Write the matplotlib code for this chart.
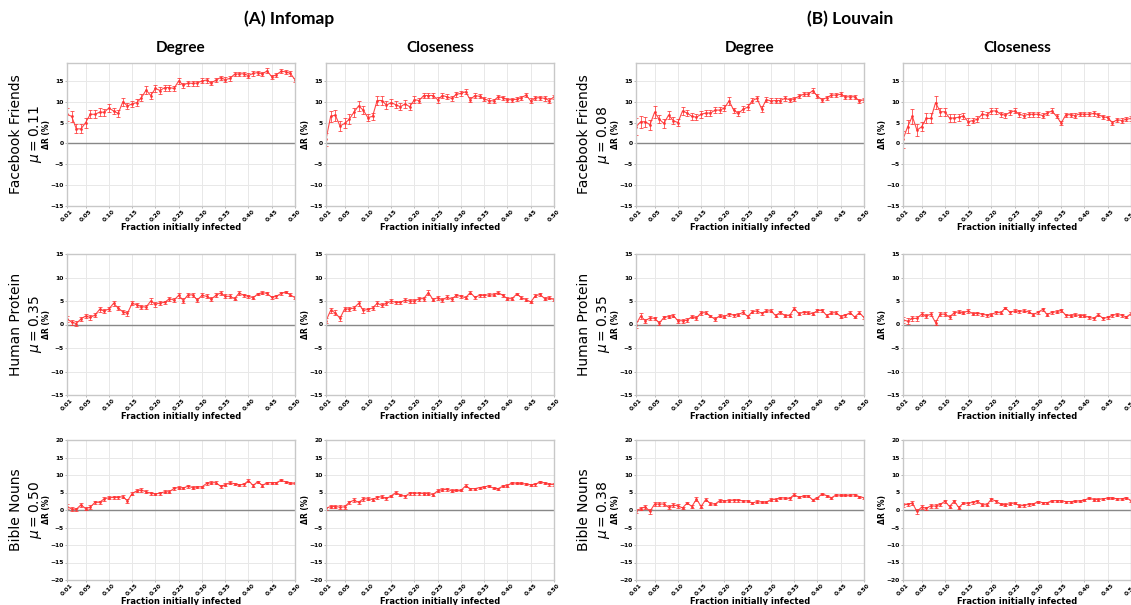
import matplotlib
matplotlib.use('Agg')
import matplotlib.pyplot as plt
import numpy as np

# fraction initially infected: 0.01 ... 0.50
fraction = [round(0.01 * i, 2) for i in range(1, 51)]
xtick_vals = [0.01, 0.05, 0.10, 0.15, 0.20, 0.25, 0.30, 0.35, 0.40, 0.45, 0.50]
xtick_labels = ['0.01', '0.05', '0.10', '0.15', '0.20', '0.25', '0.30', '0.35', '0.40', '0.45', '0.50']

methods = ['(A) Infomap', '(B) Louvain']
measures = ['Degree', 'Closeness']
networks = ['Facebook Friends', 'Human Protein', 'Bible Nouns']
mu_infomap = ['0.11', '0.35', '0.50']
mu_louvain = ['0.08', '0.35', '0.38']

# ---- Facebook Friends ----
fb_inf_deg = [7, 6.5, 3.5, 3.5, 5, 7, 7, 7.5, 7.5, 8.5, 7.8, 7.2, 10, 9, 9.5, 9.8, 11, 12.8, 11.5, 13.2,
              12.7, 13.4, 13.4, 13.2, 15, 14, 14.5, 14.4, 14.5, 15, 15.2, 14.5, 15.2, 15.8, 15.3, 15.6, 16.6, 16.7, 16.7, 16.3,
              16.8, 17, 16.7, 17.4, 16, 16.5, 17.3, 17.2, 16.8, 15.3]
fb_inf_deg_err = [1.5, 1.3, 1.1, 1.1, 1.2, 1.0, 1.0, 0.9, 0.8, 0.9, 0.8, 0.8, 0.9, 0.8, 0.8, 0.8, 0.8, 0.9, 0.9, 0.8,
                  0.8, 0.7, 0.7, 0.7, 0.8, 0.6, 0.6, 0.6, 0.6, 0.6, 0.6, 0.5, 0.5, 0.5, 0.6, 0.5, 0.5, 0.5, 0.5, 0.5,
                  0.5, 0.5, 0.5, 0.6, 0.5, 0.5, 0.5, 0.5, 0.5, 0.5]
fb_inf_clo = [1.0, 6.5, 6.8, 4.2, 4.8, 5.8, 7.5, 9, 8, 6.2, 6.5, 10.3, 10.3, 9.2, 9.8, 9.3, 8.8, 9.5, 8.8, 10.5,
              10.3, 11.5, 11.5, 11.5, 10.5, 11.5, 11.2, 10.8, 11.8, 12, 12.4, 10.5, 11.5, 11.3, 10.7, 10.3, 10.2, 11.2, 11, 10.5,
              10.5, 10.6, 11, 11.6, 10.2, 10.9, 11, 10.8, 10.3, 11.2]
fb_inf_clo_err = [1.5, 1.4, 1.3, 1.3, 1.2, 1.2, 1.1, 1.1, 1.0, 0.9, 0.9, 1.0, 1.0, 0.9, 0.9, 0.8, 0.8, 0.9, 0.8, 0.8,
                  0.7, 0.7, 0.7, 0.7, 0.7, 0.6, 0.6, 0.6, 0.6, 0.6, 0.6, 0.6, 0.6, 0.5, 0.5, 0.5, 0.5, 0.5, 0.5, 0.5,
                  0.5, 0.5, 0.5, 0.5, 0.6, 0.5, 0.5, 0.5, 0.5, 0.5]
fb_lou_deg = [4, 5.2, 5.2, 4.5, 7.5, 5.8, 4.8, 6.8, 5.5, 5, 7.8, 7.3, 6.5, 6.3, 7, 7.3, 7.3, 8, 8, 8.5,
              10.2, 8, 7.2, 8.2, 8.7, 10.3, 10.8, 8.3, 10.5, 10.2, 10.3, 10.3, 10.8, 10.5, 10.7, 11.3, 11.8, 11.8, 12.7, 11.3,
              10.5, 11, 11.6, 11.6, 11.8, 11.2, 11.2, 11.2, 10.2, 10.5]
fb_lou_deg_err = [2.0, 1.4, 1.2, 1.2, 1.4, 1.0, 1.0, 1.0, 0.9, 0.9, 0.9, 0.8, 0.8, 0.7, 0.8, 0.7, 0.7, 0.8, 0.7, 0.7,
                  0.9, 0.6, 0.6, 0.7, 0.7, 0.7, 0.7, 0.8, 0.6, 0.6, 0.6, 0.5, 0.5, 0.5, 0.5, 0.5, 0.5, 0.5, 0.6, 0.5,
                  0.5, 0.5, 0.5, 0.5, 0.5, 0.5, 0.5, 0.5, 0.5, 0.5]
fb_lou_clo = [1, 4, 6.5, 3.2, 4, 6, 6, 9.8, 7.6, 7.6, 6.1, 6.1, 6.3, 6.6, 5.2, 5.5, 5.8, 7, 6.8, 7.8,
              7.8, 7, 6.8, 7.5, 7.8, 7, 6.7, 7, 7, 7, 6.7, 7.3, 7.8, 6.5, 4.9, 6.9, 6.9, 6.7, 7.1, 7,
              7, 7.2, 6.9, 6.4, 6.2, 5, 5.7, 5.5, 5.8, 6]
fb_lou_clo_err = [2.0, 1.6, 1.8, 1.5, 1.1, 1.2, 1.2, 1.5, 1.0, 0.9, 1.0, 0.9, 0.8, 0.8, 0.8, 0.7, 0.7, 0.8, 0.7, 0.7,
                  0.7, 0.6, 0.6, 0.6, 0.6, 0.6, 0.6, 0.6, 0.6, 0.6, 0.5, 0.5, 0.6, 0.5, 0.5, 0.5, 0.5, 0.5, 0.5, 0.5,
                  0.5, 0.5, 0.5, 0.5, 0.5, 0.5, 0.5, 0.5, 0.5, 0.5]

# ---- Human Protein ----
hp_inf_deg = [1.2, 0.5, 0.2, 1.2, 1.8, 1.5, 2, 3.2, 2.9, 3.3, 4.5, 3.5, 2.7, 2.4, 4.5, 4.2, 3.8, 3.7, 5, 4.3,
              4.6, 4.7, 5.5, 5.2, 6.2, 5.1, 6.3, 6.3, 5.2, 6.2, 6, 5.4, 6.2, 6.7, 6, 6, 5.5, 6.7, 6.2, 6,
              5.7, 6.5, 6.8, 6.6, 5.8, 6, 6.6, 6.9, 6.3, 5.7]
hp_inf_deg_err = [0.6, 0.5, 0.5, 0.5, 0.5, 0.5, 0.5, 0.5, 0.5, 0.5, 0.6, 0.4, 0.4, 0.5, 0.4, 0.4, 0.4, 0.4, 0.6, 0.5,
                  0.4, 0.4, 0.4, 0.4, 0.5, 0.5, 0.4, 0.4, 0.4, 0.4, 0.4, 0.4, 0.4, 0.4, 0.4, 0.4, 0.3, 0.4, 0.3, 0.3,
                  0.3, 0.3, 0.3, 0.3, 0.3, 0.3, 0.3, 0.3, 0.3, 0.3]
hp_inf_clo = [0.8, 3, 2.5, 1.3, 3.3, 3.3, 3.5, 4.5, 3, 3.2, 3.5, 4.5, 4.1, 4.5, 5, 4.7, 4.7, 5.2, 5, 5,
              5.5, 5.5, 6.8, 5.3, 5.7, 5.2, 5.8, 5.4, 6.2, 6, 5.7, 6.8, 5.8, 6.2, 6.2, 6.3, 6.3, 6.8, 6.2, 5.5,
              5.5, 6.5, 5.7, 5.3, 4.8, 6.1, 6.4, 5.5, 5.7, 5.3]
hp_inf_clo_err = [0.5, 0.5, 0.5, 0.5, 0.5, 0.5, 0.5, 0.5, 0.5, 0.4, 0.4, 0.5, 0.4, 0.4, 0.4, 0.4, 0.4, 0.4, 0.4, 0.4,
                  0.4, 0.4, 0.5, 0.4, 0.4, 0.4, 0.4, 0.4, 0.3, 0.3, 0.3, 0.4, 0.3, 0.3, 0.3, 0.3, 0.3, 0.3, 0.3, 0.3,
                  0.3, 0.3, 0.3, 0.3, 0.3, 0.3, 0.3, 0.3, 0.3, 0.3]
hp_lou_deg = [0, 1.8, 0.8, 1.4, 1.3, 0.3, 1.5, 1.7, 1.9, 0.8, 0.8, 0.9, 1.7, 1.4, 2.5, 2.5, 1.8, 1.1, 1.9, 1.7,
              2.2, 2, 2.1, 2.6, 1.7, 2.7, 2.9, 2.4, 2.9, 2.9, 1.9, 2.6, 1.9, 1.9, 3.4, 2.3, 2.6, 2.5, 2.3, 3,
              3, 1.9, 2.5, 2.5, 1.7, 2, 2.5, 1.6, 2.5, 1.5]
hp_lou_deg_err = [0.8, 0.6, 0.4, 0.4, 0.4, 0.4, 0.4, 0.4, 0.4, 0.4, 0.4, 0.4, 0.4, 0.4, 0.4, 0.3, 0.3, 0.4, 0.3, 0.3,
                  0.3, 0.3, 0.3, 0.4, 0.3, 0.3, 0.4, 0.3, 0.3, 0.3, 0.3, 0.3, 0.3, 0.3, 0.4, 0.3, 0.3, 0.3, 0.3, 0.3,
                  0.3, 0.3, 0.3, 0.3, 0.3, 0.3, 0.3, 0.3, 0.3, 0.3]
hp_lou_clo = [1, 0.7, 1.3, 1.3, 2.2, 1.8, 2.2, 0.4, 2.2, 2.2, 1.6, 2.5, 2.7, 2.5, 2.9, 2.3, 2.4, 2.2, 2, 2.1,
              2.6, 2.5, 3.5, 2.6, 2.9, 2.8, 2.9, 2.7, 2.1, 2.6, 3.2, 2.1, 2.6, 2.7, 3, 2, 1.9, 2.1, 1.9, 1.9,
              1.5, 1.3, 2.1, 1.3, 1.5, 2, 2.1, 2, 1.6, 2.3]
hp_lou_clo_err = [0.6, 0.6, 0.5, 0.5, 0.4, 0.4, 0.4, 0.5, 0.4, 0.4, 0.4, 0.4, 0.3, 0.3, 0.4, 0.3, 0.3, 0.3, 0.3, 0.3,
                  0.3, 0.3, 0.3, 0.3, 0.3, 0.3, 0.3, 0.3, 0.3, 0.3, 0.3, 0.3, 0.3, 0.3, 0.3, 0.3, 0.3, 0.3, 0.3, 0.3,
                  0.3, 0.3, 0.3, 0.3, 0.3, 0.3, 0.3, 0.3, 0.3, 0.3]

# ---- Bible Nouns ----
bn_inf_deg = [1, 0.3, 0.2, 1.5, 0.4, 0.8, 2.2, 2.2, 3.2, 3.5, 3.6, 3.6, 3.8, 2.6, 4.7, 5.5, 5.7, 5.2, 4.8, 4.6,
              4.8, 5.2, 5.2, 6.2, 6.4, 6.3, 6.8, 6.4, 6.6, 6.6, 7.6, 7.8, 7.8, 6.8, 7.2, 7.8, 7.5, 7.2, 7.3, 8.4,
              7, 8.1, 7, 7.8, 7.8, 7.8, 8.5, 8, 7.7, 7.6]
bn_inf_deg_err = [0.6, 0.5, 0.5, 0.6, 0.5, 0.5, 0.5, 0.5, 0.5, 0.4, 0.4, 0.4, 0.4, 0.5, 0.4, 0.4, 0.5, 0.4, 0.4, 0.4,
                  0.4, 0.4, 0.4, 0.4, 0.4, 0.4, 0.4, 0.4, 0.4, 0.4, 0.4, 0.4, 0.4, 0.4, 0.4, 0.4, 0.3, 0.3, 0.3, 0.4,
                  0.4, 0.3, 0.3, 0.3, 0.3, 0.3, 0.3, 0.3, 0.3, 0.3]
bn_inf_clo = [0.5, 1, 1, 0.8, 0.9, 2.2, 2.8, 2.2, 3.2, 3.2, 3, 3.6, 3.8, 3.3, 4, 5, 4.3, 3.9, 4.8, 4.8,
              4.8, 4.7, 4.7, 4.4, 5.5, 5.8, 5.9, 5.5, 5.6, 5.6, 6.9, 6.1, 6.1, 6.4, 6.6, 6.9, 6.2, 6.1, 6.8, 7,
              7.8, 7.6, 7.6, 7.4, 7.2, 7.3, 8.1, 7.7, 7.3, 7.3]
bn_inf_clo_err = [0.5, 0.5, 0.5, 0.5, 0.5, 0.5, 0.6, 0.5, 0.5, 0.4, 0.4, 0.4, 0.4, 0.4, 0.4, 0.4, 0.4, 0.4, 0.4, 0.4,
                  0.4, 0.4, 0.4, 0.4, 0.4, 0.4, 0.4, 0.4, 0.3, 0.3, 0.4, 0.3, 0.3, 0.3, 0.3, 0.3, 0.3, 0.3, 0.3, 0.3,
                  0.3, 0.3, 0.3, 0.3, 0.3, 0.3, 0.3, 0.3, 0.3, 0.3]
bn_lou_deg = [-0.3, 0.4, 0.9, -0.4, 1.7, 1.7, 1.7, 0.8, 1.4, 1.2, 0.6, 2, 1, 3.1, 1, 3, 1.8, 1.7, 2.7, 2.6,
              2.7, 2.8, 2.8, 2.6, 2.6, 2, 2.4, 2.3, 2.2, 3, 3, 3.5, 3.4, 3.3, 4.4, 3.6, 4, 4, 2.9, 3.5,
              4.6, 4.1, 3.5, 4.3, 4.2, 4.2, 4.2, 4.4, 3.8, 3.5]
bn_lou_deg_err = [0.6, 0.5, 0.6, 0.6, 0.5, 0.5, 0.5, 0.5, 0.5, 0.5, 0.4, 0.4, 0.5, 0.5, 0.4, 0.5, 0.4, 0.4, 0.5, 0.4,
                  0.4, 0.4, 0.4, 0.4, 0.4, 0.4, 0.4, 0.4, 0.3, 0.4, 0.3, 0.3, 0.3, 0.3, 0.4, 0.3, 0.3, 0.3, 0.3, 0.3,
                  0.3, 0.3, 0.3, 0.3, 0.3, 0.3, 0.3, 0.3, 0.3, 0.3]
bn_lou_clo = [1.5, 1.6, 2, -0.4, 0.8, 0.5, 1.2, 1.1, 1.6, 2.5, 1, 2.5, 0.7, 2, 1.9, 2.2, 2.5, 1.5, 1.5, 3.1,
              2.5, 1.7, 1.5, 1.8, 2, 1.2, 1.3, 1.6, 1.7, 2.4, 2.1, 2.1, 2.6, 2.7, 2.6, 2.4, 2.4, 2.5, 2.6, 2.8,
              3.4, 3, 3, 3.2, 3.4, 3.4, 3.2, 3.2, 3.5, 2.7]
bn_lou_clo_err = [0.6, 0.5, 0.5, 0.7, 0.5, 0.5, 0.5, 0.5, 0.5, 0.5, 0.5, 0.5, 0.5, 0.4, 0.4, 0.4, 0.4, 0.4, 0.4, 0.4,
                  0.4, 0.4, 0.4, 0.4, 0.4, 0.4, 0.4, 0.4, 0.4, 0.3, 0.3, 0.3, 0.3, 0.3, 0.3, 0.3, 0.3, 0.3, 0.3, 0.3,
                  0.3, 0.3, 0.3, 0.3, 0.3, 0.3, 0.3, 0.3, 0.3, 0.3]

# grid of panels: rows = networks, cols = Infomap deg/clo, Louvain deg/clo
panel_data = [
    [(fb_inf_deg, fb_inf_deg_err), (fb_inf_clo, fb_inf_clo_err), (fb_lou_deg, fb_lou_deg_err), (fb_lou_clo, fb_lou_clo_err)],
    [(hp_inf_deg, hp_inf_deg_err), (hp_inf_clo, hp_inf_clo_err), (hp_lou_deg, hp_lou_deg_err), (hp_lou_clo, hp_lou_clo_err)],
    [(bn_inf_deg, bn_inf_deg_err), (bn_inf_clo, bn_inf_clo_err), (bn_lou_deg, bn_lou_deg_err), (bn_lou_clo, bn_lou_clo_err)],
]
row_ylim = [(-15, 19.3), (-15, 15), (-20, 20)]
row_yticks = [[-15, -10, -5, 0, 5, 10, 15], [-15, -10, -5, 0, 5, 10, 15], [-20, -15, -10, -5, 0, 5, 10, 15, 20]]

W, H = 1131, 605
fig = plt.figure(figsize=(W / 100, H / 100), dpi=100)

col_left = [67, 326, 636, 903]
col_w = 228
row_top = [63, 254, 440]
row_h = [143, 141, 140]

red = '#ff3333'
for r in range(3):
    for c in range(4):
        ax = fig.add_axes([col_left[c] / W, 1 - (row_top[r] + row_h[r]) / H, col_w / W, row_h[r] / H])
        y, e = panel_data[r][c]
        ax.errorbar(fraction, y, yerr=e, color=red, lw=0.8, elinewidth=0.6, capsize=1.6,
                    capthick=0.6, marker='.', ms=2, alpha=0.9)
        ax.axhline(0, color='#888888', lw=1.0, zorder=1)
        ax.set_xlim(0.01, 0.50)
        ax.set_ylim(*row_ylim[r])
        ax.set_xticks(xtick_vals)
        ax.set_xticklabels(xtick_labels, rotation=45, fontsize=4.3, fontweight='bold')
        ax.set_yticks(row_yticks[r])
        ax.set_yticklabels([str(v) if v >= 0 else '\u2212' + str(-v) for v in row_yticks[r]],
                           fontsize=4.3, fontweight='bold')
        ax.tick_params(length=1.2, width=0.5, pad=1.0, color='#999999')
        ax.grid(True, color='#e8e8e8', lw=0.7)
        ax.set_axisbelow(True)
        for s in ax.spines.values():
            s.set_color('#c8c8c8')
            s.set_linewidth(1.0)
        ax.set_xlabel('Fraction initially infected', fontsize=6, fontweight='bold', labelpad=0)
        ax.set_ylabel('\u0394R (%)', fontsize=5.5, fontweight='bold')
        ax.yaxis.set_label_coords(-16 / col_w, 0.5)
        if r == 0:
            ax.set_title(measures[c % 2], fontsize=11, fontweight='bold', family='Lato', pad=8)

# method headers
fig.text(289 / W, 1 - 19 / H, methods[0], ha='center', va='center', fontsize=12.5, fontweight='bold', family='Lato')
fig.text(850 / W, 1 - 19 / H, methods[1], ha='center', va='center', fontsize=12.5, fontweight='bold', family='Lato')

# row labels
for r in range(3):
    yc = 1 - (row_top[r] + row_h[r] / 2) / H
    for xa, xb, mu in [(16, 35, mu_infomap[r]), (584, 603, mu_louvain[r])]:
        fig.text(xa / W, yc, networks[r], rotation=90, ha='center', va='center', fontsize=10)
        fig.text(xb / W, yc, r'$\mu = ' + mu + '$', rotation=90, ha='center', va='center', fontsize=10)

fig.savefig('out.png', dpi=100)
